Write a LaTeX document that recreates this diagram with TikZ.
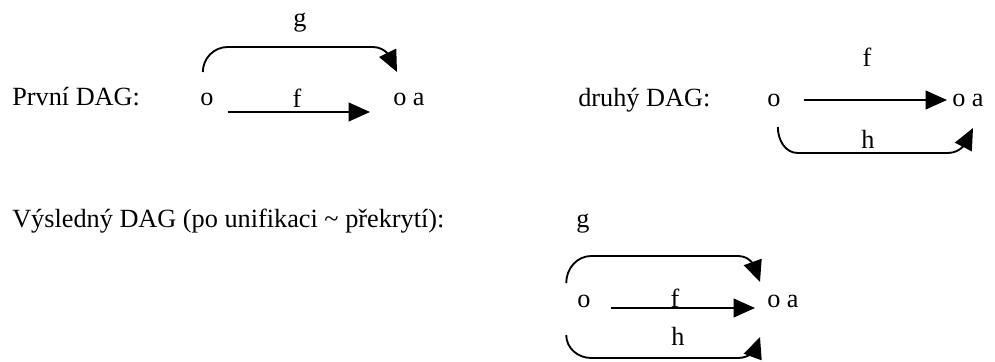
\documentclass[tikz,border=0pt]{standalone}
\usepackage{fontspec}
\setmainfont{Liberation Serif}
\usetikzlibrary{arrows.meta}

\begin{document}
\begin{tikzpicture}[x=0.75pt,y=0.75pt,
  font=\fontsize{19.7}{24}\selectfont,
  txt/.style={inner sep=0pt,anchor=base west},
  lbl/.style={inner sep=0pt,anchor=base},
  edge/.style={line width=1.4pt,-{Triangle[length=16pt,width=14pt]}}]
\useasboundingbox (0,0) rectangle (995,361);

% first DAG
\node[txt] (prvni) at (12,255) {První DAG:};
\node[txt] (o1) at (200,255) {o};
\node[txt] (oa1) at (393,255) {o a};
\node[lbl] (f1) at (297,253) {f};
\node[lbl] (g1) at (300,334) {g};
\draw[edge] ([shift={(14,-6)}]o1.base east) -- ([shift={(-23,-6)}]oa1.base west);
\draw[edge] ([shift={(-4,34)}]o1.base) to[out=90,in=180] ++(25,25) -- ++(145,0)
  to[out=0,in=116] ([shift={(4,34)}]oa1.base west);

% second DAG
\node[txt] (druhy) at (578,254) {druhý DAG:};
\node[txt] (o2) at (767,254) {o};
\node[txt] (oa2) at (952,254) {o a};
\node[lbl] (f2) at (867,294) {f};
\node[lbl] (h2) at (868,212) {h};
\draw[edge] ([shift={(23,7)}]o2.base east) -- ([shift={(-5,7)}]oa2.base west);
\draw[edge] ([shift={(4,-20)}]o2.base) to[out=-90,in=180] ++(20,-26) -- ++(150,0)
  to[out=0,in=243] ([shift={(21,-21)}]oa2.base west);

% result of the unification
\node[txt] (vysl) at (12,134) {Výsledný DAG (po unifikaci \textasciitilde{} překrytí):};
\node[txt] (o3) at (577,54) {o};
\node[txt] (oa3) at (767,54) {o a};
\node[lbl] (f3) at (675,54) {f};
\node[lbl] (g3) at (583,134) {g};
\node[lbl] (h3) at (678,16) {h};
\draw[edge] ([shift={(20,-1)}]o3.base east) -- ([shift={(-12,-1)}]oa3.base west);
\draw[edge] ([shift={(-17.6,24)}]o3.base) to[out=90,in=180] ++(25,27) -- ++(147,0)
  to[out=0,in=110] ([shift={(-7,25)}]oa3.base west);
\draw[edge] ([shift={(-17.6,-28)}]o3.base) to[out=-90,in=180] ++(25,-23) -- ++(147,0)
  to[out=0,in=250] ([shift={(-7,-30)}]oa3.base west);
\end{tikzpicture}
\end{document}
